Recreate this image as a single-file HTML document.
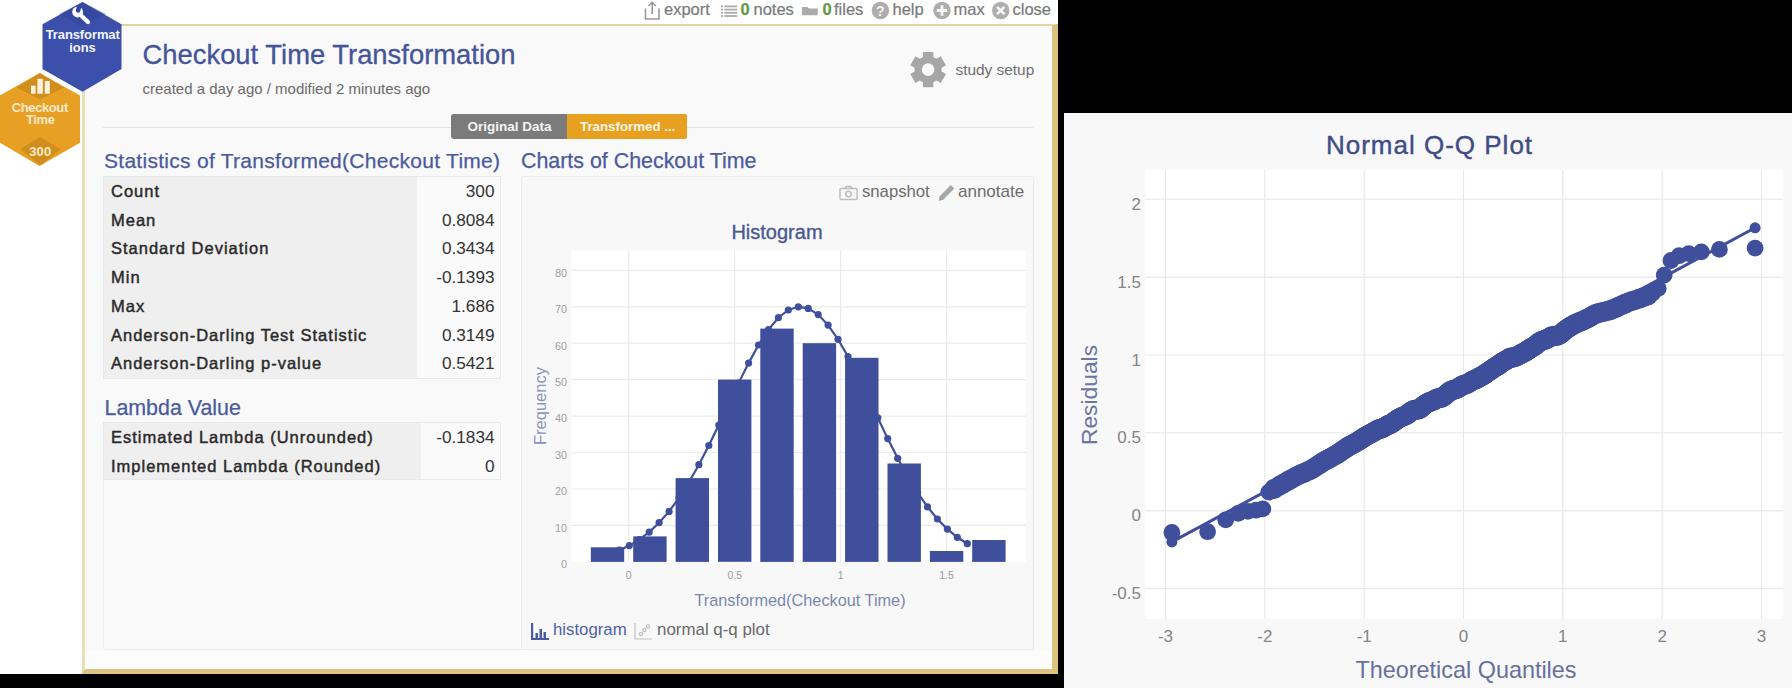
<!DOCTYPE html>
<html><head><meta charset="utf-8"><style>
*{margin:0;padding:0;box-sizing:border-box}
html,body{width:1792px;height:688px;overflow:hidden;background:#fff;font-family:"Liberation Sans", sans-serif}
.abs{position:absolute}
.tb{position:absolute;top:-1px;font-size:16.5px;color:#7a7a7a;-webkit-text-stroke:0.2px #7a7a7a;white-space:nowrap;line-height:20px}
.tbl{position:absolute;left:103px;width:398px;background:#fafafa;border:1px solid #e9e9e9}
.lcol{position:absolute;left:0;top:0;bottom:0;background:#efefef}
.lab{position:absolute;left:111px;font-size:16.5px;font-weight:normal;-webkit-text-stroke:0.45px #2a2a2a;letter-spacing:1.0px;color:#2a2a2a;white-space:nowrap;line-height:20px}
.val{position:absolute;right:1297.5px;font-size:17.2px;color:#333;white-space:nowrap;line-height:20px}
.h2{position:absolute;font-size:21.3px;color:#4a5a9e;-webkit-text-stroke:0.25px #4a5a9e;white-space:nowrap;line-height:24px}
svg text{font-family:"Liberation Sans", sans-serif}
</style></head><body>
<!-- black backgrounds -->
<div class="abs" style="left:1058px;top:0;width:734px;height:688px;background:#000"></div>
<div class="abs" style="left:0;top:674px;width:1058px;height:14px;background:#000"></div>
<!-- main panel -->
<div class="abs" style="left:82px;top:23.5px;width:976px;height:650.5px;background:#f9f9f9;border-top:2.5px solid #e4d5a4;border-left:3px solid #eadfb8;border-right:6px solid #dcc27a;border-bottom:5px solid #dcc584"></div>

<!-- toolbar -->
<svg class="abs" style="left:640px;top:0" width="420" height="24" viewBox="640 0 420 24">
 <g fill="none" stroke="#9a9a9a" stroke-width="1.6">
  <path d="M645.5,8.5 V19 H659 V8.5"/><path d="M652.2,14 V2.5 M648.5,6 L652.2,2.3 L656,6"/>
 </g>
 <g fill="#ababab">
  <rect x="721" y="5.5" width="2" height="1.8"/><rect x="724.3" y="5.5" width="13" height="1.8"/>
  <rect x="721" y="8.7" width="2" height="1.8"/><rect x="724.3" y="8.7" width="13" height="1.8"/>
  <rect x="721" y="11.9" width="2" height="1.8"/><rect x="724.3" y="11.9" width="13" height="1.8"/>
  <rect x="721" y="15.1" width="2" height="1.8"/><rect x="724.3" y="15.1" width="13" height="1.8"/>
  <path d="M802,7 h5.5 l1.3,1.5 h9 v6.8 h-15.8 z"/>
 </g>
 <g fill="#adadad">
  <circle cx="880.4" cy="10.5" r="8.7"/><circle cx="942" cy="10.5" r="8.7"/><circle cx="1000.7" cy="10.5" r="8.7"/>
 </g>
 <text x="880.4" y="15.8" text-anchor="middle" font-size="14" font-weight="bold" fill="#f6f6f6">?</text>
 <path d="M942,5.3 v10.4 M936.8,10.5 h10.4" stroke="#f6f6f6" stroke-width="2.8"/>
 <path d="M997,6.8 l7.4,7.4 M1004.4,6.8 l-7.4,7.4" stroke="#f6f6f6" stroke-width="2.6"/>
</svg>
<div class="tb" style="left:664px">export</div>
<div class="tb" style="left:740.5px;color:#5f9e3c;font-weight:bold;letter-spacing:-0.5px">0</div>
<div class="tb" style="left:753.5px">notes</div>
<div class="tb" style="left:822.5px;color:#5f9e3c;font-weight:bold;letter-spacing:-0.5px">0</div>
<div class="tb" style="left:834px">files</div>
<div class="tb" style="left:892.5px">help</div>
<div class="tb" style="left:953.5px">max</div>
<div class="tb" style="left:1012.5px">close</div>

<!-- hexagons -->
<svg class="abs" style="left:0;top:0" width="130" height="170" viewBox="0 0 130 170">
 <polygon points="82.5,2 121.5,24.3 121.5,69 82.5,91.8 42.5,69 42.5,24.3" fill="#3b4fab"/>
 <polygon points="82.5,2 106,14 82.5,27 59,14" fill="#2f4097" opacity="0.4"/>
 <polygon points="39.5,73 80,95.4 80,142.7 39.5,165.9 0,142.7 0,95.4" fill="#e7a023"/>
 <polygon points="40.2,73 64,87.4 40.2,99.5 16.5,87.4" fill="#c8861a" opacity="0.7"/>
 <polygon points="40.4,165.5 60.5,149.5 40.1,137.3 20.3,149" fill="#c8861a" opacity="0.7"/>
 <path d="M79.5,14 L88,22" stroke="#fff" stroke-width="4.4" stroke-linecap="round"/>
 <circle cx="77.6" cy="12" r="5.4" fill="#fff"/>
 <circle cx="78.1" cy="10.6" r="2.2" fill="#35479f"/>
 <polygon points="75.9,10.6 80.3,10.6 81.6,6.2 77,5.2" fill="#35479f"/>
 <g fill="#fbf3e0">
  <rect x="31" y="85.7" width="4.6" height="8"/><rect x="37.4" y="78.8" width="5.4" height="14.9"/><rect x="44.8" y="81" width="5" height="12.7"/>
 </g>
 <text x="82.7" y="39.3" text-anchor="middle" font-size="13" font-weight="bold" fill="#f4f6ff" letter-spacing="-0.1">Transformat</text>
 <text x="82.5" y="52.4" text-anchor="middle" font-size="13" font-weight="bold" fill="#f4f6ff">ions</text>
 <text x="39.8" y="112.2" text-anchor="middle" font-size="13" font-weight="bold" fill="#fbeacb" letter-spacing="-0.4">Checkout</text>
 <text x="40.3" y="123.8" text-anchor="middle" font-size="13" font-weight="bold" fill="#fbeacb" letter-spacing="-0.4">Time</text>
 <text x="40.3" y="155.8" text-anchor="middle" font-size="13" font-weight="bold" fill="#fbeacb" letter-spacing="0.2">300</text>
</svg>

<!-- header -->
<div class="abs" style="left:142.5px;top:38.5px;font-size:27.4px;color:#44549a;-webkit-text-stroke:0.3px #44549a;white-space:nowrap;line-height:32px">Checkout Time Transformation</div>
<div class="abs" style="left:142.5px;top:79.7px;font-size:15px;color:#6a6a6a;white-space:nowrap;line-height:18px">created a day ago / modified 2 minutes ago</div>
<svg class="abs" style="left:905px;top:46px" width="46" height="46" viewBox="0 0 46 46">
 <g transform="translate(23.1,23.6)" fill="#a6a6a6">
  <circle r="13.5"/>
  <g id="t"><rect x="-5.2" y="-17.6" width="10.4" height="8"/></g>
  <use href="#t" transform="rotate(60)"/><use href="#t" transform="rotate(120)"/><use href="#t" transform="rotate(180)"/>
  <use href="#t" transform="rotate(240)"/><use href="#t" transform="rotate(300)"/>
  <circle r="6.3" fill="#f9f9f9"/>
 </g>
</svg>
<div class="abs" style="left:955.5px;top:60.8px;font-size:15.4px;color:#6e6e6e;white-space:nowrap;line-height:18px">study setup</div>

<!-- separator + tabs -->
<div class="abs" style="left:103px;top:126.5px;width:930px;height:1.5px;background:#e3e3e3"></div>
<div class="abs" style="left:451px;top:114px;width:236px;height:25px;border-radius:3px;background:#7b7b7b;overflow:hidden">
  <div class="abs" style="left:116px;top:0;width:120px;height:25px;background:#e8a020"></div>
  <div class="abs" style="left:16.5px;top:4px;font-size:13.5px;font-weight:bold;color:#f4f4f4;white-space:nowrap;line-height:17px">Original Data</div>
  <div class="abs" style="left:129px;top:4px;font-size:13.3px;font-weight:bold;color:#fff6e6;white-space:nowrap;line-height:17px">Transformed ...</div>
</div>

<!-- headings -->
<div class="h2" style="left:104px;top:148.5px;letter-spacing:0.28px;font-size:21px">Statistics of Transformed(Checkout Time)</div>
<div class="h2" style="left:521px;top:148.5px;font-size:21.4px">Charts of Checkout Time</div>
<div class="h2" style="left:104.5px;top:395.5px;font-size:21.4px">Lambda Value</div>

<div class="tbl" style="top:175.5px;height:203.0px"><div class="lcol" style="width:312.5px"></div></div>
<div class="lab" style="top:180.8px">Count</div>
<div class="val" style="top:180.8px">300</div>
<div class="lab" style="top:209.6px">Mean</div>
<div class="val" style="top:209.6px">0.8084</div>
<div class="lab" style="top:238.3px">Standard Deviation</div>
<div class="val" style="top:238.3px">0.3434</div>
<div class="lab" style="top:267.1px">Min</div>
<div class="val" style="top:267.1px">-0.1393</div>
<div class="lab" style="top:295.8px">Max</div>
<div class="val" style="top:295.8px">1.686</div>
<div class="lab" style="top:324.6px">Anderson-Darling Test Statistic</div>
<div class="val" style="top:324.6px">0.3149</div>
<div class="lab" style="top:353.3px">Anderson-Darling p-value</div>
<div class="val" style="top:353.3px">0.5421</div>
<div class="tbl" style="top:421.5px;height:58.8px"><div class="lcol" style="width:317px"></div></div>
<div class="lab" style="top:427.1px">Estimated Lambda (Unrounded)</div>
<div class="val" style="top:427.1px">-0.1834</div>
<div class="lab" style="top:455.5px">Implemented Lambda (Rounded)</div>
<div class="val" style="top:455.5px">0</div>

<div class="abs" style="left:102.5px;top:480px;width:420px;height:169.5px;border-left:1.2px solid #eeeeee;border-bottom:1.2px solid #eeeeee;border-bottom-left-radius:3px"></div>
<div class="abs" style="left:85px;top:650.5px;width:967px;height:18.5px;background:#fcfcfc"></div>
<!-- charts panel -->
<div class="abs" style="left:520.5px;top:176px;width:513px;height:473.5px;border:1.5px solid #ebebeb;border-radius:3px;background:#f8f8f8"></div>
<svg class="abs" style="left:838px;top:182px" width="22" height="20" viewBox="0 0 22 20">
 <g fill="none" stroke="#bdbdbd" stroke-width="1.5"><rect x="2" y="6.5" width="17" height="11" rx="1"/><circle cx="10.5" cy="12" r="2.8"/><path d="M7,6.5 l1.2,-2 h4.6 l1.2,2"/></g>
</svg>
<div class="abs" style="left:862px;top:182px;font-size:16.7px;color:#6c6c6c;white-space:nowrap;line-height:20px">snapshot</div>
<svg class="abs" style="left:937px;top:182px" width="20" height="20" viewBox="0 0 20 20">
 <path d="M1.5,19 l1.2,-4.8 L13.8,3 l3.5,3.5 L6.3,17.8z" fill="#a8a8a8"/>
</svg>
<div class="abs" style="left:958px;top:182px;font-size:17px;color:#6c6c6c;white-space:nowrap;line-height:20px">annotate</div>

<svg class="abs" style="left:0;top:0" width="1792" height="688" viewBox="0 0 1792 688">
<rect x="571.5" y="250.5" width="454.5" height="311.4" fill="#fff"/>
<line x1="571.5" x2="1026" y1="525.4" y2="525.4" stroke="#ebebeb" stroke-width="1.2"/>
<line x1="571.5" x2="1026" y1="489.0" y2="489.0" stroke="#ebebeb" stroke-width="1.2"/>
<line x1="571.5" x2="1026" y1="452.5" y2="452.5" stroke="#ebebeb" stroke-width="1.2"/>
<line x1="571.5" x2="1026" y1="416.1" y2="416.1" stroke="#ebebeb" stroke-width="1.2"/>
<line x1="571.5" x2="1026" y1="379.6" y2="379.6" stroke="#ebebeb" stroke-width="1.2"/>
<line x1="571.5" x2="1026" y1="343.2" y2="343.2" stroke="#ebebeb" stroke-width="1.2"/>
<line x1="571.5" x2="1026" y1="306.8" y2="306.8" stroke="#ebebeb" stroke-width="1.2"/>
<line x1="571.5" x2="1026" y1="270.3" y2="270.3" stroke="#ebebeb" stroke-width="1.2"/>
<line x1="628.7" x2="628.7" y1="250.5" y2="561.9" stroke="#ebebeb" stroke-width="1.2"/>
<line x1="734.7" x2="734.7" y1="250.5" y2="561.9" stroke="#ebebeb" stroke-width="1.2"/>
<line x1="840.6" x2="840.6" y1="250.5" y2="561.9" stroke="#ebebeb" stroke-width="1.2"/>
<line x1="946.6" x2="946.6" y1="250.5" y2="561.9" stroke="#ebebeb" stroke-width="1.2"/>
<rect x="590.8" y="547.3" width="33.4" height="14.6" fill="#3f4f9c"/>
<rect x="633.2" y="536.4" width="33.4" height="25.5" fill="#3f4f9c"/>
<rect x="675.6" y="478.1" width="33.4" height="83.8" fill="#3f4f9c"/>
<rect x="718.0" y="379.6" width="33.4" height="182.2" fill="#3f4f9c"/>
<rect x="760.3" y="328.6" width="33.4" height="233.3" fill="#3f4f9c"/>
<rect x="802.7" y="343.2" width="33.4" height="218.7" fill="#3f4f9c"/>
<rect x="845.1" y="357.8" width="33.4" height="204.1" fill="#3f4f9c"/>
<rect x="887.5" y="463.5" width="33.4" height="98.4" fill="#3f4f9c"/>
<rect x="929.9" y="551.0" width="33.4" height="10.9" fill="#3f4f9c"/>
<rect x="972.2" y="540.0" width="33.4" height="21.9" fill="#3f4f9c"/>
<path d="M609.4,553.6 L619.4,550.2 L629.3,545.6 L639.2,539.7 L649.2,532.1 L659.1,522.7 L669.1,511.4 L679.0,497.9 L688.9,482.3 L698.9,464.7 L708.8,445.5 L718.8,425.1 L728.7,404.0 L738.6,383.1 L748.6,363.1 L758.5,345.0 L768.5,329.6 L778.4,317.7 L788.3,310.0 L798.3,306.8 L808.2,308.4 L818.2,314.6 L828.1,325.1 L838.0,339.3 L848.0,356.6 L857.9,376.0 L867.9,396.7 L877.8,417.8 L887.7,438.6 L897.7,458.3 L907.6,476.4 L917.6,492.7 L927.5,506.9 L937.4,519.0 L947.4,529.1 L957.3,537.3 L967.3,543.7" fill="none" stroke="#3f4f9c" stroke-width="2.2"/>
<circle cx="609.4" cy="553.6" r="3.6" fill="#3f4f9c"/>
<circle cx="619.4" cy="550.2" r="3.6" fill="#3f4f9c"/>
<circle cx="629.3" cy="545.6" r="3.6" fill="#3f4f9c"/>
<circle cx="639.2" cy="539.7" r="3.6" fill="#3f4f9c"/>
<circle cx="649.2" cy="532.1" r="3.6" fill="#3f4f9c"/>
<circle cx="659.1" cy="522.7" r="3.6" fill="#3f4f9c"/>
<circle cx="669.1" cy="511.4" r="3.6" fill="#3f4f9c"/>
<circle cx="679.0" cy="497.9" r="3.6" fill="#3f4f9c"/>
<circle cx="688.9" cy="482.3" r="3.6" fill="#3f4f9c"/>
<circle cx="698.9" cy="464.7" r="3.6" fill="#3f4f9c"/>
<circle cx="708.8" cy="445.5" r="3.6" fill="#3f4f9c"/>
<circle cx="718.8" cy="425.1" r="3.6" fill="#3f4f9c"/>
<circle cx="728.7" cy="404.0" r="3.6" fill="#3f4f9c"/>
<circle cx="738.6" cy="383.1" r="3.6" fill="#3f4f9c"/>
<circle cx="748.6" cy="363.1" r="3.6" fill="#3f4f9c"/>
<circle cx="758.5" cy="345.0" r="3.6" fill="#3f4f9c"/>
<circle cx="768.5" cy="329.6" r="3.6" fill="#3f4f9c"/>
<circle cx="778.4" cy="317.7" r="3.6" fill="#3f4f9c"/>
<circle cx="788.3" cy="310.0" r="3.6" fill="#3f4f9c"/>
<circle cx="798.3" cy="306.8" r="3.6" fill="#3f4f9c"/>
<circle cx="808.2" cy="308.4" r="3.6" fill="#3f4f9c"/>
<circle cx="818.2" cy="314.6" r="3.6" fill="#3f4f9c"/>
<circle cx="828.1" cy="325.1" r="3.6" fill="#3f4f9c"/>
<circle cx="838.0" cy="339.3" r="3.6" fill="#3f4f9c"/>
<circle cx="848.0" cy="356.6" r="3.6" fill="#3f4f9c"/>
<circle cx="857.9" cy="376.0" r="3.6" fill="#3f4f9c"/>
<circle cx="867.9" cy="396.7" r="3.6" fill="#3f4f9c"/>
<circle cx="877.8" cy="417.8" r="3.6" fill="#3f4f9c"/>
<circle cx="887.7" cy="438.6" r="3.6" fill="#3f4f9c"/>
<circle cx="897.7" cy="458.3" r="3.6" fill="#3f4f9c"/>
<circle cx="907.6" cy="476.4" r="3.6" fill="#3f4f9c"/>
<circle cx="917.6" cy="492.7" r="3.6" fill="#3f4f9c"/>
<circle cx="927.5" cy="506.9" r="3.6" fill="#3f4f9c"/>
<circle cx="937.4" cy="519.0" r="3.6" fill="#3f4f9c"/>
<circle cx="947.4" cy="529.1" r="3.6" fill="#3f4f9c"/>
<circle cx="957.3" cy="537.3" r="3.6" fill="#3f4f9c"/>
<circle cx="967.3" cy="543.7" r="3.6" fill="#3f4f9c"/>
<text x="567" y="568.2" text-anchor="end" font-size="10.8" fill="#a0a0a0">0</text>
<text x="567" y="531.7" text-anchor="end" font-size="10.8" fill="#a0a0a0">10</text>
<text x="567" y="495.3" text-anchor="end" font-size="10.8" fill="#a0a0a0">20</text>
<text x="567" y="458.8" text-anchor="end" font-size="10.8" fill="#a0a0a0">30</text>
<text x="567" y="422.4" text-anchor="end" font-size="10.8" fill="#a0a0a0">40</text>
<text x="567" y="385.9" text-anchor="end" font-size="10.8" fill="#a0a0a0">50</text>
<text x="567" y="349.5" text-anchor="end" font-size="10.8" fill="#a0a0a0">60</text>
<text x="567" y="313.1" text-anchor="end" font-size="10.8" fill="#a0a0a0">70</text>
<text x="567" y="276.6" text-anchor="end" font-size="10.8" fill="#a0a0a0">80</text>
<text x="628.7" y="579" text-anchor="middle" font-size="10.5" fill="#9a9a9a">0</text>
<text x="734.7" y="579" text-anchor="middle" font-size="10.5" fill="#9a9a9a">0.5</text>
<text x="840.6" y="579" text-anchor="middle" font-size="10.5" fill="#9a9a9a">1</text>
<text x="946.6" y="579" text-anchor="middle" font-size="10.5" fill="#9a9a9a">1.5</text>
<text x="777" y="238.5" text-anchor="middle" font-size="20" fill="#4a5894" stroke="#4a5894" stroke-width="0.35">Histogram</text>
<text x="800" y="605.8" text-anchor="middle" font-size="16.3" fill="#7c86b0">Transformed(Checkout Time)</text>
<text transform="translate(545.5,406) rotate(-90)" text-anchor="middle" font-size="16.5" fill="#8a94c0">Frequency</text>
</svg>

<svg class="abs" style="left:529px;top:620px" width="22" height="22" viewBox="0 0 22 22">
 <g fill="#4a5aa8"><rect x="2" y="3" width="2.2" height="17"/><rect x="2" y="18" width="18" height="2"/>
 <rect x="6.5" y="13" width="2.5" height="5"/><rect x="10.5" y="9" width="2.5" height="9"/><rect x="14.5" y="12" width="2.5" height="6"/></g>
</svg>
<div class="abs" style="left:553px;top:619.5px;font-size:16.8px;color:#4f5fa5;white-space:nowrap;line-height:20px">histogram</div>
<svg class="abs" style="left:632px;top:620px" width="22" height="22" viewBox="0 0 22 22">
 <g fill="none" stroke="#c0c0c0" stroke-width="1.2"><path d="M3,3 V19 H20"/><circle cx="9" cy="14" r="1.6"/><circle cx="12.5" cy="10" r="1.6"/><circle cx="16" cy="6.5" r="1.6"/></g>
</svg>
<div class="abs" style="left:657px;top:619.5px;font-size:16.9px;color:#6a6a6a;white-space:nowrap;line-height:20px">normal q-q plot</div>

<!-- Q-Q panel -->
<div class="abs" style="left:1064px;top:113px;width:728px;height:575px;background:#f8f8f8"></div>
<svg class="abs" style="left:0;top:0" width="1792" height="688" viewBox="0 0 1792 688">
<rect x="1145.5" y="169.5" width="637.5" height="449.5" fill="#fff"/>
<line x1="1145.5" x2="1783" y1="588.7" y2="588.7" stroke="#e9e9e9" stroke-width="1.2"/>
<line x1="1145.5" x2="1783" y1="510.8" y2="510.8" stroke="#e9e9e9" stroke-width="1.2"/>
<line x1="1145.5" x2="1783" y1="432.9" y2="432.9" stroke="#e9e9e9" stroke-width="1.2"/>
<line x1="1145.5" x2="1783" y1="355.0" y2="355.0" stroke="#e9e9e9" stroke-width="1.2"/>
<line x1="1145.5" x2="1783" y1="277.1" y2="277.1" stroke="#e9e9e9" stroke-width="1.2"/>
<line x1="1145.5" x2="1783" y1="199.2" y2="199.2" stroke="#e9e9e9" stroke-width="1.2"/>
<line x1="1165.5" x2="1165.5" y1="169.5" y2="619" stroke="#e9e9e9" stroke-width="1.2"/>
<line x1="1264.8" x2="1264.8" y1="169.5" y2="619" stroke="#e9e9e9" stroke-width="1.2"/>
<line x1="1364.2" x2="1364.2" y1="169.5" y2="619" stroke="#e9e9e9" stroke-width="1.2"/>
<line x1="1463.5" x2="1463.5" y1="169.5" y2="619" stroke="#e9e9e9" stroke-width="1.2"/>
<line x1="1562.8" x2="1562.8" y1="169.5" y2="619" stroke="#e9e9e9" stroke-width="1.2"/>
<line x1="1662.2" x2="1662.2" y1="169.5" y2="619" stroke="#e9e9e9" stroke-width="1.2"/>
<line x1="1761.5" x2="1761.5" y1="169.5" y2="619" stroke="#e9e9e9" stroke-width="1.2"/>
<line x1="1171.9" y1="541.9" x2="1755.1" y2="227.8" stroke="#3f4f9c" stroke-width="3"/>
<circle cx="1171.9" cy="532.5" r="8.4" fill="#3f4f9c"/>
<circle cx="1207.6" cy="531.7" r="8.4" fill="#3f4f9c"/>
<circle cx="1225.7" cy="519.8" r="8.4" fill="#3f4f9c"/>
<circle cx="1238.2" cy="513.4" r="8.4" fill="#3f4f9c"/>
<circle cx="1247.9" cy="511.4" r="8.4" fill="#3f4f9c"/>
<circle cx="1256.0" cy="510.2" r="8.4" fill="#3f4f9c"/>
<circle cx="1262.8" cy="508.9" r="8.4" fill="#3f4f9c"/>
<circle cx="1268.8" cy="492.1" r="8.4" fill="#3f4f9c"/>
<circle cx="1274.2" cy="488.9" r="10" fill="#3f4f9c"/>
<circle cx="1279.1" cy="486.0" r="10" fill="#3f4f9c"/>
<circle cx="1283.5" cy="483.4" r="10" fill="#3f4f9c"/>
<circle cx="1287.6" cy="481.1" r="10" fill="#3f4f9c"/>
<circle cx="1291.5" cy="478.9" r="10" fill="#3f4f9c"/>
<circle cx="1295.1" cy="477.0" r="10" fill="#3f4f9c"/>
<circle cx="1298.5" cy="475.3" r="10" fill="#3f4f9c"/>
<circle cx="1301.7" cy="473.8" r="10" fill="#3f4f9c"/>
<circle cx="1304.8" cy="472.5" r="10" fill="#3f4f9c"/>
<circle cx="1307.7" cy="471.2" r="10" fill="#3f4f9c"/>
<circle cx="1310.4" cy="469.9" r="10" fill="#3f4f9c"/>
<circle cx="1313.1" cy="468.4" r="10" fill="#3f4f9c"/>
<circle cx="1315.7" cy="466.8" r="10" fill="#3f4f9c"/>
<circle cx="1318.1" cy="465.2" r="10" fill="#3f4f9c"/>
<circle cx="1320.5" cy="463.6" r="10" fill="#3f4f9c"/>
<circle cx="1322.8" cy="462.1" r="10" fill="#3f4f9c"/>
<circle cx="1325.0" cy="460.8" r="10" fill="#3f4f9c"/>
<circle cx="1327.2" cy="459.6" r="10" fill="#3f4f9c"/>
<circle cx="1329.3" cy="458.5" r="10" fill="#3f4f9c"/>
<circle cx="1331.3" cy="457.4" r="10" fill="#3f4f9c"/>
<circle cx="1333.3" cy="456.3" r="10" fill="#3f4f9c"/>
<circle cx="1335.3" cy="455.2" r="10" fill="#3f4f9c"/>
<circle cx="1337.1" cy="454.1" r="10" fill="#3f4f9c"/>
<circle cx="1339.0" cy="453.0" r="10" fill="#3f4f9c"/>
<circle cx="1340.8" cy="451.8" r="10" fill="#3f4f9c"/>
<circle cx="1342.5" cy="450.5" r="10" fill="#3f4f9c"/>
<circle cx="1344.3" cy="449.3" r="10" fill="#3f4f9c"/>
<circle cx="1346.0" cy="448.1" r="10" fill="#3f4f9c"/>
<circle cx="1347.6" cy="447.0" r="10" fill="#3f4f9c"/>
<circle cx="1349.2" cy="446.1" r="10" fill="#3f4f9c"/>
<circle cx="1350.8" cy="445.2" r="10" fill="#3f4f9c"/>
<circle cx="1352.4" cy="444.4" r="10" fill="#3f4f9c"/>
<circle cx="1353.9" cy="443.6" r="10" fill="#3f4f9c"/>
<circle cx="1355.4" cy="442.8" r="10" fill="#3f4f9c"/>
<circle cx="1356.9" cy="442.0" r="10" fill="#3f4f9c"/>
<circle cx="1358.4" cy="441.1" r="10" fill="#3f4f9c"/>
<circle cx="1359.8" cy="440.1" r="10" fill="#3f4f9c"/>
<circle cx="1361.3" cy="439.2" r="10" fill="#3f4f9c"/>
<circle cx="1362.7" cy="438.3" r="10" fill="#3f4f9c"/>
<circle cx="1364.0" cy="437.3" r="10" fill="#3f4f9c"/>
<circle cx="1365.4" cy="436.4" r="10" fill="#3f4f9c"/>
<circle cx="1366.7" cy="435.7" r="10" fill="#3f4f9c"/>
<circle cx="1368.1" cy="435.0" r="10" fill="#3f4f9c"/>
<circle cx="1369.4" cy="434.3" r="10" fill="#3f4f9c"/>
<circle cx="1370.7" cy="433.7" r="10" fill="#3f4f9c"/>
<circle cx="1371.9" cy="433.0" r="10" fill="#3f4f9c"/>
<circle cx="1373.2" cy="432.2" r="10" fill="#3f4f9c"/>
<circle cx="1374.5" cy="431.4" r="10" fill="#3f4f9c"/>
<circle cx="1375.7" cy="430.7" r="10" fill="#3f4f9c"/>
<circle cx="1376.9" cy="430.0" r="10" fill="#3f4f9c"/>
<circle cx="1378.1" cy="429.5" r="10" fill="#3f4f9c"/>
<circle cx="1379.3" cy="429.1" r="10" fill="#3f4f9c"/>
<circle cx="1380.5" cy="428.8" r="10" fill="#3f4f9c"/>
<circle cx="1381.7" cy="428.5" r="10" fill="#3f4f9c"/>
<circle cx="1382.8" cy="428.0" r="10" fill="#3f4f9c"/>
<circle cx="1384.0" cy="427.4" r="10" fill="#3f4f9c"/>
<circle cx="1385.1" cy="426.7" r="10" fill="#3f4f9c"/>
<circle cx="1386.2" cy="426.0" r="10" fill="#3f4f9c"/>
<circle cx="1387.4" cy="425.3" r="10" fill="#3f4f9c"/>
<circle cx="1388.5" cy="424.8" r="10" fill="#3f4f9c"/>
<circle cx="1389.6" cy="424.4" r="10" fill="#3f4f9c"/>
<circle cx="1390.7" cy="424.0" r="10" fill="#3f4f9c"/>
<circle cx="1391.7" cy="423.5" r="10" fill="#3f4f9c"/>
<circle cx="1392.8" cy="422.8" r="10" fill="#3f4f9c"/>
<circle cx="1393.9" cy="422.0" r="10" fill="#3f4f9c"/>
<circle cx="1394.9" cy="421.1" r="10" fill="#3f4f9c"/>
<circle cx="1396.0" cy="420.3" r="10" fill="#3f4f9c"/>
<circle cx="1397.0" cy="419.5" r="10" fill="#3f4f9c"/>
<circle cx="1398.1" cy="418.9" r="10" fill="#3f4f9c"/>
<circle cx="1399.1" cy="418.3" r="10" fill="#3f4f9c"/>
<circle cx="1400.1" cy="417.8" r="10" fill="#3f4f9c"/>
<circle cx="1401.1" cy="417.3" r="10" fill="#3f4f9c"/>
<circle cx="1402.1" cy="416.8" r="10" fill="#3f4f9c"/>
<circle cx="1403.1" cy="416.4" r="10" fill="#3f4f9c"/>
<circle cx="1404.1" cy="416.0" r="10" fill="#3f4f9c"/>
<circle cx="1405.1" cy="415.7" r="10" fill="#3f4f9c"/>
<circle cx="1406.1" cy="415.2" r="10" fill="#3f4f9c"/>
<circle cx="1407.1" cy="414.6" r="10" fill="#3f4f9c"/>
<circle cx="1408.0" cy="413.9" r="10" fill="#3f4f9c"/>
<circle cx="1409.0" cy="413.1" r="10" fill="#3f4f9c"/>
<circle cx="1410.0" cy="412.3" r="10" fill="#3f4f9c"/>
<circle cx="1410.9" cy="411.5" r="10" fill="#3f4f9c"/>
<circle cx="1411.9" cy="410.9" r="10" fill="#3f4f9c"/>
<circle cx="1412.8" cy="410.4" r="10" fill="#3f4f9c"/>
<circle cx="1413.8" cy="410.0" r="10" fill="#3f4f9c"/>
<circle cx="1414.7" cy="409.7" r="10" fill="#3f4f9c"/>
<circle cx="1415.7" cy="409.5" r="10" fill="#3f4f9c"/>
<circle cx="1416.6" cy="409.5" r="10" fill="#3f4f9c"/>
<circle cx="1417.5" cy="409.5" r="10" fill="#3f4f9c"/>
<circle cx="1418.4" cy="409.4" r="10" fill="#3f4f9c"/>
<circle cx="1419.3" cy="409.2" r="10" fill="#3f4f9c"/>
<circle cx="1420.3" cy="408.7" r="10" fill="#3f4f9c"/>
<circle cx="1421.2" cy="407.9" r="10" fill="#3f4f9c"/>
<circle cx="1422.1" cy="407.0" r="10" fill="#3f4f9c"/>
<circle cx="1423.0" cy="406.0" r="10" fill="#3f4f9c"/>
<circle cx="1423.9" cy="405.2" r="10" fill="#3f4f9c"/>
<circle cx="1424.8" cy="404.5" r="10" fill="#3f4f9c"/>
<circle cx="1425.7" cy="404.0" r="10" fill="#3f4f9c"/>
<circle cx="1426.6" cy="403.5" r="10" fill="#3f4f9c"/>
<circle cx="1427.5" cy="403.0" r="10" fill="#3f4f9c"/>
<circle cx="1428.3" cy="402.6" r="10" fill="#3f4f9c"/>
<circle cx="1429.2" cy="402.2" r="10" fill="#3f4f9c"/>
<circle cx="1430.1" cy="401.8" r="10" fill="#3f4f9c"/>
<circle cx="1431.0" cy="401.5" r="10" fill="#3f4f9c"/>
<circle cx="1431.8" cy="401.2" r="10" fill="#3f4f9c"/>
<circle cx="1432.7" cy="400.9" r="10" fill="#3f4f9c"/>
<circle cx="1433.6" cy="400.6" r="10" fill="#3f4f9c"/>
<circle cx="1434.5" cy="400.1" r="10" fill="#3f4f9c"/>
<circle cx="1435.3" cy="399.6" r="10" fill="#3f4f9c"/>
<circle cx="1436.2" cy="399.0" r="10" fill="#3f4f9c"/>
<circle cx="1437.0" cy="398.5" r="10" fill="#3f4f9c"/>
<circle cx="1437.9" cy="398.2" r="10" fill="#3f4f9c"/>
<circle cx="1438.8" cy="398.0" r="10" fill="#3f4f9c"/>
<circle cx="1439.6" cy="397.9" r="10" fill="#3f4f9c"/>
<circle cx="1440.5" cy="397.9" r="10" fill="#3f4f9c"/>
<circle cx="1441.3" cy="397.7" r="10" fill="#3f4f9c"/>
<circle cx="1442.2" cy="397.4" r="10" fill="#3f4f9c"/>
<circle cx="1443.0" cy="396.9" r="10" fill="#3f4f9c"/>
<circle cx="1443.9" cy="396.3" r="10" fill="#3f4f9c"/>
<circle cx="1444.7" cy="395.7" r="10" fill="#3f4f9c"/>
<circle cx="1445.6" cy="394.9" r="10" fill="#3f4f9c"/>
<circle cx="1446.4" cy="394.2" r="10" fill="#3f4f9c"/>
<circle cx="1447.2" cy="393.5" r="10" fill="#3f4f9c"/>
<circle cx="1448.1" cy="392.8" r="10" fill="#3f4f9c"/>
<circle cx="1448.9" cy="392.1" r="10" fill="#3f4f9c"/>
<circle cx="1449.8" cy="391.5" r="10" fill="#3f4f9c"/>
<circle cx="1450.6" cy="390.9" r="10" fill="#3f4f9c"/>
<circle cx="1451.4" cy="390.5" r="10" fill="#3f4f9c"/>
<circle cx="1452.3" cy="390.2" r="10" fill="#3f4f9c"/>
<circle cx="1453.1" cy="389.9" r="10" fill="#3f4f9c"/>
<circle cx="1453.9" cy="389.7" r="10" fill="#3f4f9c"/>
<circle cx="1454.8" cy="389.5" r="10" fill="#3f4f9c"/>
<circle cx="1455.6" cy="389.2" r="10" fill="#3f4f9c"/>
<circle cx="1456.4" cy="388.9" r="10" fill="#3f4f9c"/>
<circle cx="1457.3" cy="388.6" r="10" fill="#3f4f9c"/>
<circle cx="1458.1" cy="388.2" r="10" fill="#3f4f9c"/>
<circle cx="1458.9" cy="387.7" r="10" fill="#3f4f9c"/>
<circle cx="1459.8" cy="387.1" r="10" fill="#3f4f9c"/>
<circle cx="1460.6" cy="386.5" r="10" fill="#3f4f9c"/>
<circle cx="1461.4" cy="385.9" r="10" fill="#3f4f9c"/>
<circle cx="1462.3" cy="385.4" r="10" fill="#3f4f9c"/>
<circle cx="1463.1" cy="385.1" r="10" fill="#3f4f9c"/>
<circle cx="1463.9" cy="384.9" r="10" fill="#3f4f9c"/>
<circle cx="1464.7" cy="384.7" r="10" fill="#3f4f9c"/>
<circle cx="1465.6" cy="384.4" r="10" fill="#3f4f9c"/>
<circle cx="1466.4" cy="384.1" r="10" fill="#3f4f9c"/>
<circle cx="1467.2" cy="383.8" r="10" fill="#3f4f9c"/>
<circle cx="1468.1" cy="383.4" r="10" fill="#3f4f9c"/>
<circle cx="1468.9" cy="382.9" r="10" fill="#3f4f9c"/>
<circle cx="1469.7" cy="382.3" r="10" fill="#3f4f9c"/>
<circle cx="1470.6" cy="381.7" r="10" fill="#3f4f9c"/>
<circle cx="1471.4" cy="381.2" r="10" fill="#3f4f9c"/>
<circle cx="1472.2" cy="380.7" r="10" fill="#3f4f9c"/>
<circle cx="1473.1" cy="380.3" r="10" fill="#3f4f9c"/>
<circle cx="1473.9" cy="380.0" r="10" fill="#3f4f9c"/>
<circle cx="1474.7" cy="379.7" r="10" fill="#3f4f9c"/>
<circle cx="1475.6" cy="379.5" r="10" fill="#3f4f9c"/>
<circle cx="1476.4" cy="379.1" r="10" fill="#3f4f9c"/>
<circle cx="1477.2" cy="378.6" r="10" fill="#3f4f9c"/>
<circle cx="1478.1" cy="378.1" r="10" fill="#3f4f9c"/>
<circle cx="1478.9" cy="377.5" r="10" fill="#3f4f9c"/>
<circle cx="1479.8" cy="377.0" r="10" fill="#3f4f9c"/>
<circle cx="1480.6" cy="376.6" r="10" fill="#3f4f9c"/>
<circle cx="1481.4" cy="376.2" r="10" fill="#3f4f9c"/>
<circle cx="1482.3" cy="375.8" r="10" fill="#3f4f9c"/>
<circle cx="1483.1" cy="375.4" r="10" fill="#3f4f9c"/>
<circle cx="1484.0" cy="374.9" r="10" fill="#3f4f9c"/>
<circle cx="1484.8" cy="374.2" r="10" fill="#3f4f9c"/>
<circle cx="1485.7" cy="373.6" r="10" fill="#3f4f9c"/>
<circle cx="1486.5" cy="372.9" r="10" fill="#3f4f9c"/>
<circle cx="1487.4" cy="372.4" r="10" fill="#3f4f9c"/>
<circle cx="1488.2" cy="371.8" r="10" fill="#3f4f9c"/>
<circle cx="1489.1" cy="371.3" r="10" fill="#3f4f9c"/>
<circle cx="1490.0" cy="370.8" r="10" fill="#3f4f9c"/>
<circle cx="1490.8" cy="370.2" r="10" fill="#3f4f9c"/>
<circle cx="1491.7" cy="369.5" r="10" fill="#3f4f9c"/>
<circle cx="1492.5" cy="368.8" r="10" fill="#3f4f9c"/>
<circle cx="1493.4" cy="368.2" r="10" fill="#3f4f9c"/>
<circle cx="1494.3" cy="367.6" r="10" fill="#3f4f9c"/>
<circle cx="1495.2" cy="367.1" r="10" fill="#3f4f9c"/>
<circle cx="1496.0" cy="366.7" r="10" fill="#3f4f9c"/>
<circle cx="1496.9" cy="366.3" r="10" fill="#3f4f9c"/>
<circle cx="1497.8" cy="365.8" r="10" fill="#3f4f9c"/>
<circle cx="1498.7" cy="365.1" r="10" fill="#3f4f9c"/>
<circle cx="1499.5" cy="364.4" r="10" fill="#3f4f9c"/>
<circle cx="1500.4" cy="363.7" r="10" fill="#3f4f9c"/>
<circle cx="1501.3" cy="362.9" r="10" fill="#3f4f9c"/>
<circle cx="1502.2" cy="362.3" r="10" fill="#3f4f9c"/>
<circle cx="1503.1" cy="361.8" r="10" fill="#3f4f9c"/>
<circle cx="1504.0" cy="361.3" r="10" fill="#3f4f9c"/>
<circle cx="1504.9" cy="360.9" r="10" fill="#3f4f9c"/>
<circle cx="1505.8" cy="360.4" r="10" fill="#3f4f9c"/>
<circle cx="1506.7" cy="359.9" r="10" fill="#3f4f9c"/>
<circle cx="1507.7" cy="359.2" r="10" fill="#3f4f9c"/>
<circle cx="1508.6" cy="358.5" r="10" fill="#3f4f9c"/>
<circle cx="1509.5" cy="358.0" r="10" fill="#3f4f9c"/>
<circle cx="1510.4" cy="357.6" r="10" fill="#3f4f9c"/>
<circle cx="1511.3" cy="357.5" r="10" fill="#3f4f9c"/>
<circle cx="1512.3" cy="357.5" r="10" fill="#3f4f9c"/>
<circle cx="1513.2" cy="357.4" r="10" fill="#3f4f9c"/>
<circle cx="1514.2" cy="357.2" r="10" fill="#3f4f9c"/>
<circle cx="1515.1" cy="356.9" r="10" fill="#3f4f9c"/>
<circle cx="1516.1" cy="356.6" r="10" fill="#3f4f9c"/>
<circle cx="1517.0" cy="356.2" r="10" fill="#3f4f9c"/>
<circle cx="1518.0" cy="355.8" r="10" fill="#3f4f9c"/>
<circle cx="1519.0" cy="355.2" r="10" fill="#3f4f9c"/>
<circle cx="1519.9" cy="354.6" r="10" fill="#3f4f9c"/>
<circle cx="1520.9" cy="354.0" r="10" fill="#3f4f9c"/>
<circle cx="1521.9" cy="353.4" r="10" fill="#3f4f9c"/>
<circle cx="1522.9" cy="352.9" r="10" fill="#3f4f9c"/>
<circle cx="1523.9" cy="352.5" r="10" fill="#3f4f9c"/>
<circle cx="1524.9" cy="352.1" r="10" fill="#3f4f9c"/>
<circle cx="1525.9" cy="351.5" r="10" fill="#3f4f9c"/>
<circle cx="1526.9" cy="350.9" r="10" fill="#3f4f9c"/>
<circle cx="1527.9" cy="350.1" r="10" fill="#3f4f9c"/>
<circle cx="1528.9" cy="349.3" r="10" fill="#3f4f9c"/>
<circle cx="1530.0" cy="348.6" r="10" fill="#3f4f9c"/>
<circle cx="1531.0" cy="348.0" r="10" fill="#3f4f9c"/>
<circle cx="1532.1" cy="347.5" r="10" fill="#3f4f9c"/>
<circle cx="1533.1" cy="346.9" r="10" fill="#3f4f9c"/>
<circle cx="1534.2" cy="346.3" r="10" fill="#3f4f9c"/>
<circle cx="1535.3" cy="345.5" r="10" fill="#3f4f9c"/>
<circle cx="1536.3" cy="344.6" r="10" fill="#3f4f9c"/>
<circle cx="1537.4" cy="343.7" r="10" fill="#3f4f9c"/>
<circle cx="1538.5" cy="342.7" r="10" fill="#3f4f9c"/>
<circle cx="1539.6" cy="341.9" r="10" fill="#3f4f9c"/>
<circle cx="1540.8" cy="341.2" r="10" fill="#3f4f9c"/>
<circle cx="1541.9" cy="340.8" r="10" fill="#3f4f9c"/>
<circle cx="1543.0" cy="340.4" r="10" fill="#3f4f9c"/>
<circle cx="1544.2" cy="340.1" r="10" fill="#3f4f9c"/>
<circle cx="1545.3" cy="339.7" r="10" fill="#3f4f9c"/>
<circle cx="1546.5" cy="339.2" r="10" fill="#3f4f9c"/>
<circle cx="1547.7" cy="338.6" r="10" fill="#3f4f9c"/>
<circle cx="1548.9" cy="337.9" r="10" fill="#3f4f9c"/>
<circle cx="1550.1" cy="337.1" r="10" fill="#3f4f9c"/>
<circle cx="1551.3" cy="336.5" r="10" fill="#3f4f9c"/>
<circle cx="1552.5" cy="336.1" r="10" fill="#3f4f9c"/>
<circle cx="1553.8" cy="335.9" r="10" fill="#3f4f9c"/>
<circle cx="1555.1" cy="335.9" r="10" fill="#3f4f9c"/>
<circle cx="1556.3" cy="335.8" r="10" fill="#3f4f9c"/>
<circle cx="1557.6" cy="335.7" r="10" fill="#3f4f9c"/>
<circle cx="1558.9" cy="335.2" r="10" fill="#3f4f9c"/>
<circle cx="1560.3" cy="334.3" r="10" fill="#3f4f9c"/>
<circle cx="1561.6" cy="333.2" r="10" fill="#3f4f9c"/>
<circle cx="1563.0" cy="332.0" r="10" fill="#3f4f9c"/>
<circle cx="1564.3" cy="330.8" r="10" fill="#3f4f9c"/>
<circle cx="1565.7" cy="329.7" r="10" fill="#3f4f9c"/>
<circle cx="1567.2" cy="328.7" r="10" fill="#3f4f9c"/>
<circle cx="1568.6" cy="327.7" r="10" fill="#3f4f9c"/>
<circle cx="1570.1" cy="326.8" r="10" fill="#3f4f9c"/>
<circle cx="1571.6" cy="325.9" r="10" fill="#3f4f9c"/>
<circle cx="1573.1" cy="325.0" r="10" fill="#3f4f9c"/>
<circle cx="1574.6" cy="324.2" r="10" fill="#3f4f9c"/>
<circle cx="1576.2" cy="323.4" r="10" fill="#3f4f9c"/>
<circle cx="1577.8" cy="322.7" r="10" fill="#3f4f9c"/>
<circle cx="1579.4" cy="322.0" r="10" fill="#3f4f9c"/>
<circle cx="1581.0" cy="321.4" r="10" fill="#3f4f9c"/>
<circle cx="1582.7" cy="320.7" r="10" fill="#3f4f9c"/>
<circle cx="1584.5" cy="319.9" r="10" fill="#3f4f9c"/>
<circle cx="1586.2" cy="319.1" r="10" fill="#3f4f9c"/>
<circle cx="1588.0" cy="318.2" r="10" fill="#3f4f9c"/>
<circle cx="1589.9" cy="317.2" r="10" fill="#3f4f9c"/>
<circle cx="1591.7" cy="316.0" r="10" fill="#3f4f9c"/>
<circle cx="1593.7" cy="315.0" r="10" fill="#3f4f9c"/>
<circle cx="1595.7" cy="314.1" r="10" fill="#3f4f9c"/>
<circle cx="1597.7" cy="313.3" r="10" fill="#3f4f9c"/>
<circle cx="1599.8" cy="312.7" r="10" fill="#3f4f9c"/>
<circle cx="1602.0" cy="312.2" r="10" fill="#3f4f9c"/>
<circle cx="1604.2" cy="311.8" r="10" fill="#3f4f9c"/>
<circle cx="1606.5" cy="311.3" r="10" fill="#3f4f9c"/>
<circle cx="1608.9" cy="310.6" r="10" fill="#3f4f9c"/>
<circle cx="1611.3" cy="309.8" r="10" fill="#3f4f9c"/>
<circle cx="1613.9" cy="308.7" r="10" fill="#3f4f9c"/>
<circle cx="1616.6" cy="307.6" r="10" fill="#3f4f9c"/>
<circle cx="1619.3" cy="306.3" r="10" fill="#3f4f9c"/>
<circle cx="1622.2" cy="305.0" r="10" fill="#3f4f9c"/>
<circle cx="1625.3" cy="303.6" r="10" fill="#3f4f9c"/>
<circle cx="1628.5" cy="302.3" r="10" fill="#3f4f9c"/>
<circle cx="1631.9" cy="301.1" r="10" fill="#3f4f9c"/>
<circle cx="1635.5" cy="299.9" r="10" fill="#3f4f9c"/>
<circle cx="1639.4" cy="298.6" r="10" fill="#3f4f9c"/>
<circle cx="1643.5" cy="297.2" r="10" fill="#3f4f9c"/>
<circle cx="1647.9" cy="295.4" r="10" fill="#3f4f9c"/>
<circle cx="1652.8" cy="293.0" r="8.4" fill="#3f4f9c"/>
<circle cx="1658.2" cy="288.4" r="8.4" fill="#3f4f9c"/>
<circle cx="1664.2" cy="275.1" r="8.4" fill="#3f4f9c"/>
<circle cx="1671.0" cy="260.5" r="8.4" fill="#3f4f9c"/>
<circle cx="1679.1" cy="255.7" r="8.4" fill="#3f4f9c"/>
<circle cx="1688.8" cy="253.6" r="8.4" fill="#3f4f9c"/>
<circle cx="1701.3" cy="251.9" r="8.4" fill="#3f4f9c"/>
<circle cx="1719.4" cy="249.4" r="8.4" fill="#3f4f9c"/>
<circle cx="1755.1" cy="248.1" r="8.4" fill="#3f4f9c"/>
<circle cx="1171.9" cy="541.9" r="5.5" fill="#3f4f9c"/>
<circle cx="1755.1" cy="227.8" r="5.5" fill="#3f4f9c"/>
<text x="1141" y="599.2" text-anchor="end" font-size="17" fill="#858585">-0.5</text>
<text x="1141" y="521.3" text-anchor="end" font-size="17" fill="#858585">0</text>
<text x="1141" y="443.4" text-anchor="end" font-size="17" fill="#858585">0.5</text>
<text x="1141" y="365.5" text-anchor="end" font-size="17" fill="#858585">1</text>
<text x="1141" y="287.6" text-anchor="end" font-size="17" fill="#858585">1.5</text>
<text x="1141" y="209.7" text-anchor="end" font-size="17" fill="#858585">2</text>
<text x="1165.5" y="642" text-anchor="middle" font-size="17" fill="#858585">-3</text>
<text x="1264.8" y="642" text-anchor="middle" font-size="17" fill="#858585">-2</text>
<text x="1364.2" y="642" text-anchor="middle" font-size="17" fill="#858585">-1</text>
<text x="1463.5" y="642" text-anchor="middle" font-size="17" fill="#858585">0</text>
<text x="1562.8" y="642" text-anchor="middle" font-size="17" fill="#858585">1</text>
<text x="1662.2" y="642" text-anchor="middle" font-size="17" fill="#858585">2</text>
<text x="1761.5" y="642" text-anchor="middle" font-size="17" fill="#858585">3</text>
<text x="1429.5" y="154" text-anchor="middle" font-size="26" letter-spacing="1" fill="#3f4c88" stroke="#3f4c88" stroke-width="0.4">Normal Q-Q Plot</text>
<text x="1466" y="678" text-anchor="middle" font-size="23.4" fill="#66709c">Theoretical Quantiles</text>
<text transform="translate(1097,395) rotate(-90)" text-anchor="middle" font-size="22.8" fill="#6a75a3">Residuals</text>
</svg>
</body></html>
